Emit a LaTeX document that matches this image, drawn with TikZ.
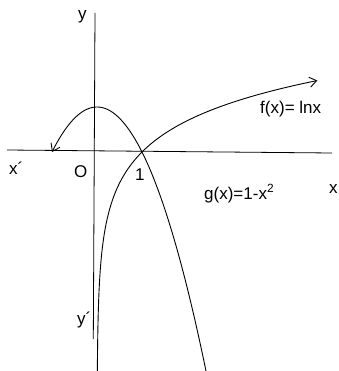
\documentclass[tikz,border=0pt]{standalone}
\usepackage{fontspec}
\setmainfont{Liberation Sans}
\usetikzlibrary{arrows.meta}
\begin{document}
\begin{tikzpicture}[x=1pt,y=-1pt,
  axis/.style={line width=0.8pt},
  curve/.style={line width=0.9pt},
  lbl/.style={inner sep=0pt,anchor=base west,font=\fontsize{17}{20}\selectfont},
  tipstart/.style={{Straight Barb[length=7pt,width=10pt]}-},
  tipend/.style={-{Straight Barb[length=7pt,width=10pt]}}]
\useasboundingbox (0,0) rectangle (338,371);
\clip (0,0) rectangle (338,371);
\coordinate (xl) at (7,150);
\coordinate (xr) at (332,153);
\coordinate (yt) at (95,13);
\coordinate (yb) at (93.3,339);
\draw[axis] (xl) -- (xr);
\draw[axis] (yt) -- (yb);
% g(x) = 1 - x^2
\draw[curve,tipstart] plot[domain=-1:2.45,samples=100] ({97+45*\x},{152-45*(1-\x*\x)});
% f(x) = ln x
\draw[curve,tipend] plot[domain=-4.95:1.589,samples=160,variable=\t] ({97+45*exp(\t)},{152-45*\t});
% labels
\node[lbl] (ylbl) at (78,20) {y};
\node[lbl] (xplbl) at (9,175) {x´};
\node[lbl] (olbl) at (74,177) {O};
\node[lbl] (onelbl) at (135,180) {1};
\node[lbl] (yplbl) at (77,324) {y´};
\node[lbl] (xlbl) at (329,193) {x};
\node[lbl] (flbl) at (260,114) {f(x)= lnx};
\node[lbl] (glbl) at (204,199) {g(x)=1-x\textsuperscript{2}};
\end{tikzpicture}
\end{document}
